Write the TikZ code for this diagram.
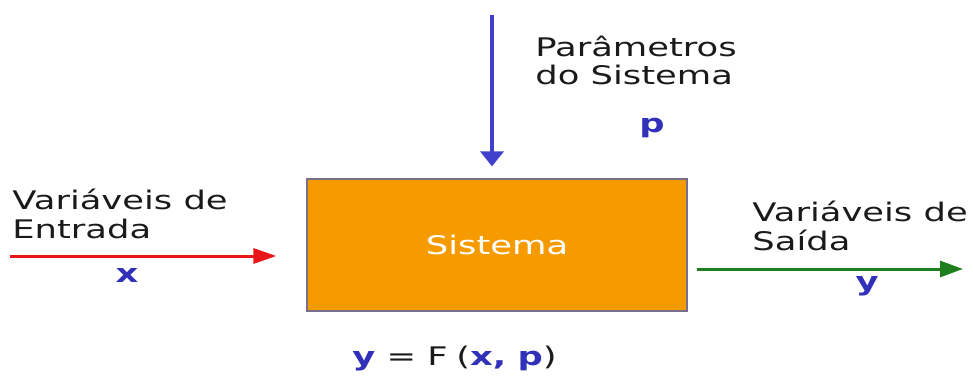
\documentclass[tikz,border=0pt]{standalone}
\usepackage{fontspec}
\setmainfont[FakeStretch=1.38]{DejaVu Sans}
\usepackage{tikz}
\usetikzlibrary{arrows.meta, positioning, calc}

\definecolor{sysorange}{HTML}{F59B00}
\definecolor{sysborder}{HTML}{7A6E8C}
\definecolor{inred}{HTML}{E81818}
\definecolor{parblue}{HTML}{4040CC}
\definecolor{outgreen}{HTML}{1F7F1F}
\definecolor{varblue}{HTML}{3030B8}
\definecolor{txtgray}{HTML}{1A1A1A}

\tikzset{
  lbl/.style={anchor=base west, align=left, inner sep=0pt, text=txtgray,
    font=\fontsize{12.8}{14.4}\selectfont},
  var/.style={anchor=base, inner sep=0pt, text=varblue,
    font=\fontsize{12.8}{14.4}\selectfont\bfseries},
  sysbox/.style={draw=sysborder, line width=0.6pt, fill=sysorange}
}
\newcommand{\vb}[1]{{\bfseries\color{varblue}#1}}

\begin{document}
\begin{tikzpicture}[x=0.5pt, y=-0.5pt]
\useasboundingbox (0,0) rectangle (973,385);

% --- System block ---
\node[sysbox, minimum width=190pt, minimum height=66pt, inner sep=0pt] (box) at (497,245) {};
\node[text=white, inner sep=0pt, font=\fontsize{12.8}{14.4}\selectfont] (sysname) at (box.center) {Sistema};

% --- Input ---
\node[lbl] (inLabel) at (12,238) {Variáveis de\\Entrada};
\node[var] (xLabel) at (127,282) {x};
\coordinate (inStart) at (10,256);
\draw[inred, line width=1.5pt, -{Triangle[length=11.5pt, width=7.5pt]}, shorten >=15pt]
  (inStart) -- (inStart -| box.west);

% --- Parameters ---
\node[lbl] (parLabel) at (535,85) {Parâmetros\\do Sistema};
\node[var] (pLabel) at (652,133) {p};
\coordinate (parStart) at (492,15);
\draw[parblue, line width=1.8pt, -{Triangle[length=7.5pt, width=11.5pt]}, shorten >=6pt]
  (parStart) -- (parStart |- box.north);

% --- Output ---
\node[lbl] (outLabel) at (752,250) {Variáveis de\\Saída};
\node[var] (yLabel) at (867,290) {y};
\coordinate (outTip) at (963,269);
\draw[outgreen, line width=1.5pt, -{Triangle[length=11.5pt, width=8pt]}, shorten <=4.5pt]
  (outTip -| box.east) -- (outTip);

% --- Relation ---
\node[lbl] (relation) at (352,365) {\vb{y} = F\,\,(\vb{x,} \vb{p})};

\end{tikzpicture}
\end{document}
